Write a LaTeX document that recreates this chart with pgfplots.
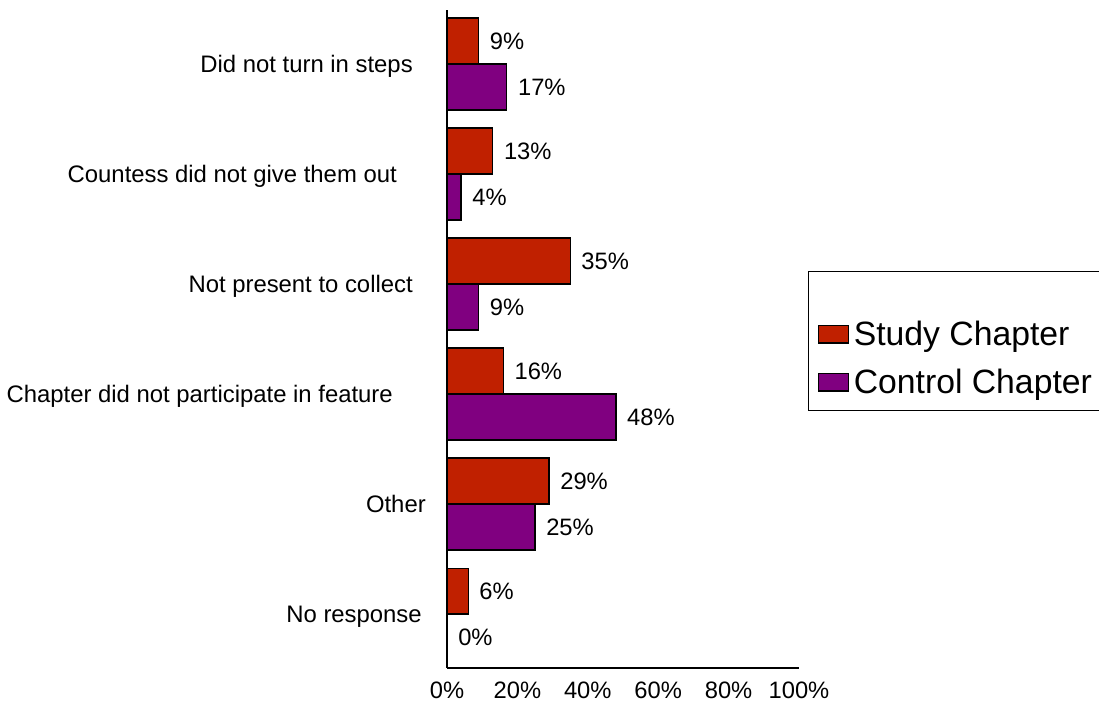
\documentclass[border=0pt]{standalone}
\usepackage{pgfplots}
\usepackage{pgfplotstable}
\pgfplotsset{compat=1.18}
\usepackage{fontspec}
\setmainfont{Liberation Sans}
\definecolor{studyred}{RGB}{192,32,0}
\definecolor{ctrlpurple}{RGB}{128,0,128}

% reasons, top to bottom
\pgfplotstableread{
pos study control
0   9     17
1   13    4
2   35    9
3   16    48
4   29    25
5   6     0
}\reasons

\begin{document}
\begin{tikzpicture}
\useasboundingbox (0,0) rectangle (824.25pt,-529.5pt);
\begin{axis}[
  at={(335.25pt,-501pt)}, anchor=south west,
  scale only axis, width=264pt, height=493.5pt,
  xbar,
  xmin=0, xmax=100,
  ymin=-0.49, ymax=5.49,
  y dir=reverse,
  axis lines=left,
  axis line style={-, line width=0.9pt},
  xtick={0,20,...,100},
  xticklabel={\pgfmathprintnumber{\tick}\%},
  xtick style={draw=none},
  ytick=\empty,
  /pgf/number format/assume math mode=true,
  xticklabel style={font=\fontsize{17.8}{20}\selectfont, yshift=-5pt},
  bar width=0.418,
  clip=false,
  nodes near coords={\pgfmathprintnumber{\pgfplotspointmeta}\%},
  every node near coord/.append style={font=\fontsize{17.8}{20}\selectfont, anchor=west, inner sep=0pt, xshift=8pt, text=black},
  legend image code/.code={\draw[#1] (0pt,-1.2pt) rectangle (22.5pt,11.6pt);},
  legend style={at={(rel axis cs:1.0256,0.603)}, anchor=north west,
    draw=black, line width=0.9pt, inner xsep=7pt, inner ysep=0pt,
    font=\fontsize{25.3}{30}\selectfont, row sep=3.75pt,
    nodes={text height=19.5pt, text depth=12.75pt, inner sep=0pt},
    /tikz/every even column/.append style={column sep=4pt},
    /tikz/every odd column/.append style={column sep=3.5pt}},
  legend cell align=left,
]
\addlegendimage{empty legend}
\addlegendentry{}
\addplot[fill=studyred, draw=black, line width=0.9pt, bar shift=-0.209]
  table[x=study, y=pos] {\reasons};
\addlegendentry{Study Chapter}
\addplot[fill=ctrlpurple, draw=black, line width=0.9pt, bar shift=0.209]
  table[x=control, y=pos] {\reasons};
\addlegendentry{Control Chapter}

\begin{scope}[every node/.style={font=\fontsize{17.9}{20}\selectfont, anchor=base east, yshift=-6.5pt, inner sep=0pt}]
\node at (axis cs:-9.66,0) {Did not turn in steps};
\node at (axis cs:-14.2,1) {Countess did not give them out};
\node at (axis cs:-9.66,2) {Not present to collect};
\node at (axis cs:-15.34,3) {Chapter did not participate in feature};
\node at (axis cs:-5.97,4) {Other};
\node at (axis cs:-7.10,5) {No response};
\end{scope}
\end{axis}
\end{tikzpicture}
\end{document}
